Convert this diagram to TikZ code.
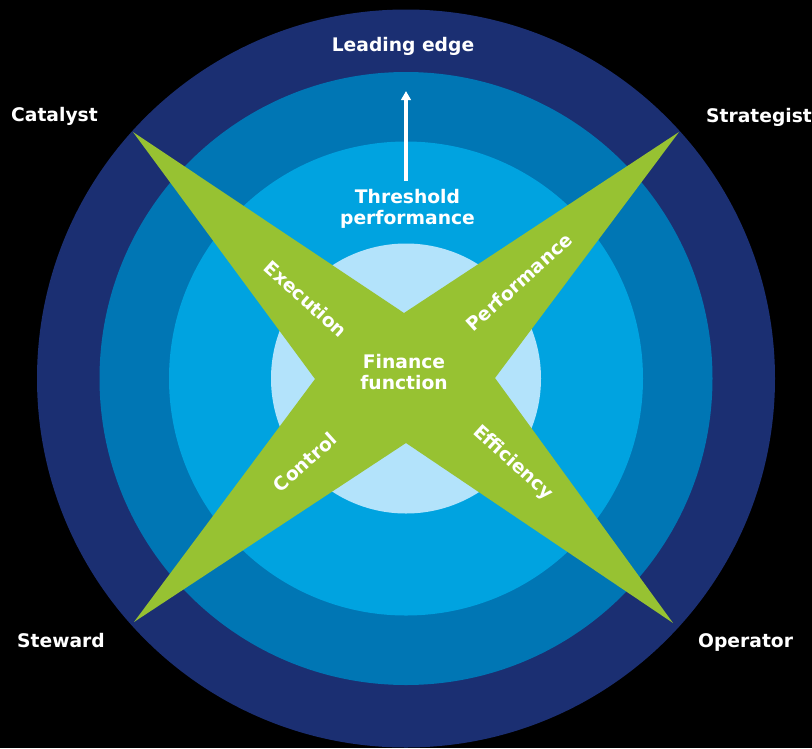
\documentclass[tikz,border=0pt]{standalone}
\usepackage{fontspec}
\setmainfont{DejaVu Sans}
\usetikzlibrary{arrows.meta}
\definecolor{navy}{HTML}{1B2F72}
\definecolor{midblue}{HTML}{0076B4}
\definecolor{skyblue}{HTML}{00A3E0}
\definecolor{paleblue}{HTML}{B3E3FB}
\definecolor{leaf}{HTML}{97C232}
\begin{document}
\begin{tikzpicture}[x=1pt,y=-1pt,
  lbl/.style={text=white,font=\bfseries\fontsize{18.7}{21}\selectfont,inner sep=0pt}]
\fill[black] (0,0) rectangle (812,748);
\useasboundingbox (0,0) rectangle (812,748);
\coordinate (c) at (406,378.5);
\fill[navy] (c) circle[radius=369];
\fill[midblue] (c) circle[radius=306.5];
\fill[skyblue] (c) circle[radius=237];
\fill[paleblue] (c) circle[radius=135];
% star
\fill[leaf] (133,132) -- (404,313) -- (679,132) -- (495,378) -- (673,623)
  -- (406,443) -- (134,622) -- (315,379) -- cycle;
% arrow
\coordinate (arrowstart) at (406,181);
\coordinate (arrowtip) at (406,91);
\draw[white,line width=3.2pt,-{Triangle[width=9.5pt,length=9pt]}] (arrowstart) -- (arrowtip);
% labels
\node[lbl,anchor=base west] (catalyst) at (11,121) {Catalyst};
\node[lbl,anchor=base] (leading) at (403,51) {Leading edge};
\node[lbl,anchor=base west] (strategist) at (706,122) {Strategist};
\node[lbl,anchor=base west] (steward) at (17,647) {Steward};
\node[lbl,anchor=base west] (operator) at (698,647) {Operator};
\node[lbl,align=center] (threshold) at (407.5,209) {Threshold\\performance};
\node[lbl,align=center] (finance) at (404,372) {Finance\\function};
\node[lbl,rotate=-42] (execution) at (306,299) {Execution};
\node[lbl,rotate=42] (performance) at (519,282) {Performance};
\node[lbl,rotate=42] (control) at (305,462) {Control};
\node[lbl,rotate=-42] (efficiency) at (513,463) {Efficiency};
\end{tikzpicture}
\end{document}
